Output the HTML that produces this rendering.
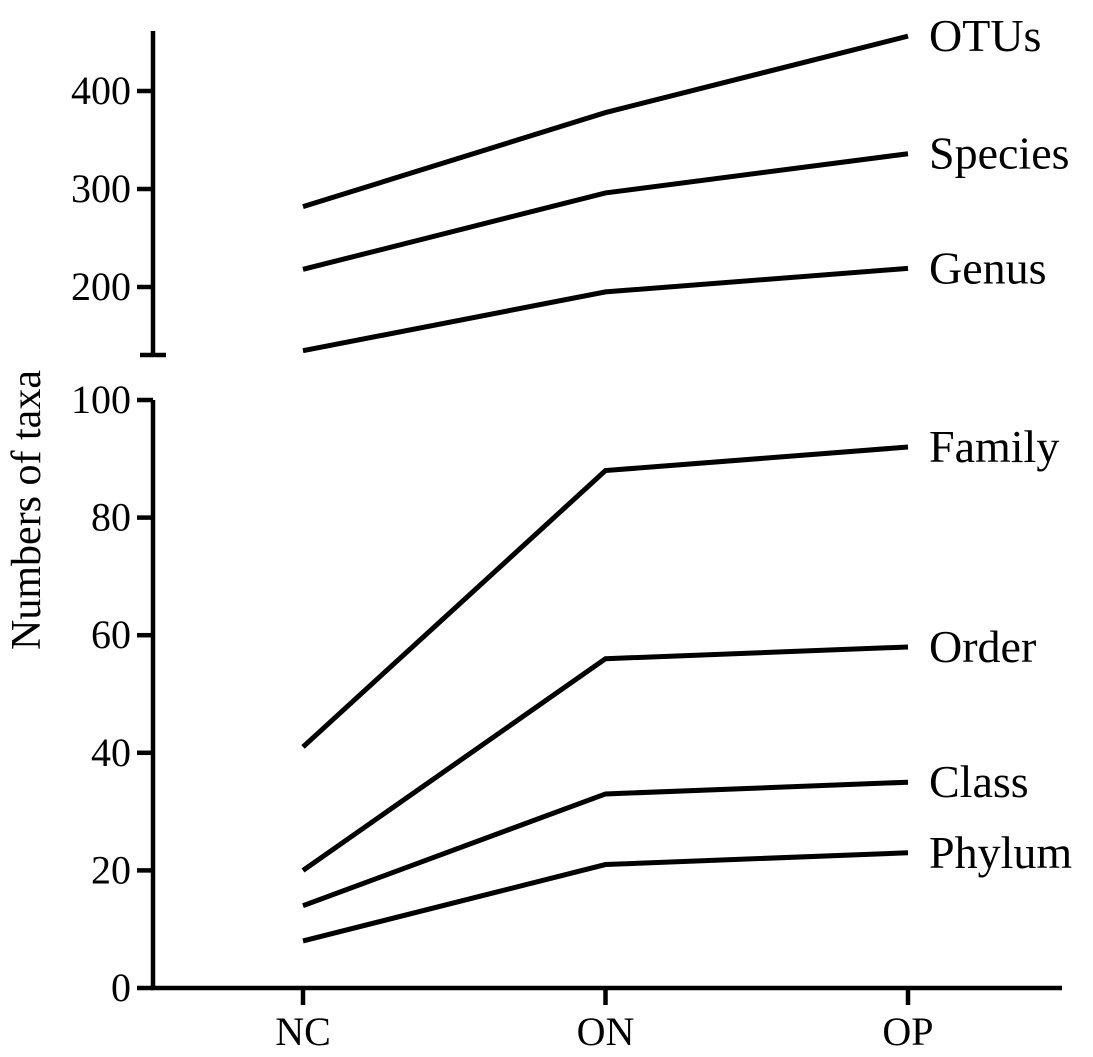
<!DOCTYPE html>
<html><head><meta charset="utf-8"><style>
body{margin:0;background:#fff}
svg{display:block}
text{font-family:"Liberation Serif",serif;fill:#000}
</style></head><body>
<svg id="chart" width="1093" height="1057" xmlns="http://www.w3.org/2000/svg"></svg>
<script>
const categories = ["NC","ON","OP"];
const seriesNames = ["OTUs","Species","Genus","Family","Order","Class","Phylum"];
const otus = [282,378,456];
const species = [218,296,336];
const genus = [135,195,219];
const family = [41,88,92];
const order = [20,56,58];
const classV = [14,33,35];
const phylum = [8,21,23];
const lowerTicks = [0,20,40,60,80,100];
const upperTicks = [200,300,400];

const NS="http://www.w3.org/2000/svg";
const svg=document.getElementById('chart');
function el(t,a,p){const e=document.createElementNS(NS,t);for(const k in a)e.setAttribute(k,a[k]);(p||svg).appendChild(e);return e;}
const xScale=i=>303+i*302.5;
const yLow=v=>988-v*5.88;
const yUp=v=>91+(400-v)*0.98;
const axisX=153;

let a;
a=el('line',{x1:axisX,y1:990,x2:axisX,y2:400,stroke:'#000','stroke-width':4.5});

a=el('line',{x1:axisX,y1:355,x2:axisX,y2:31,stroke:'#000','stroke-width':4.5});

a=el('line',{x1:140,y1:355,x2:166,y2:355,stroke:'#000','stroke-width':4.5});

a=el('line',{x1:axisX-2,y1:988,x2:1062,y2:988,stroke:'#000','stroke-width':4.5});


lowerTicks.forEach(v=>{
  const y=yLow(v);
  const t=el('line',{x1:137,y1:y,x2:axisX,y2:y,stroke:'#000','stroke-width':4.5});
  
  const l=el('text',{x:131,y:y+13,'text-anchor':'end','font-size':40});l.textContent=v;
  
});
upperTicks.forEach(v=>{
  const y=yUp(v);
  const t=el('line',{x1:137,y1:y,x2:axisX,y2:y,stroke:'#000','stroke-width':4.5});
  
  const l=el('text',{x:131,y:y+13,'text-anchor':'end','font-size':40});l.textContent=v;
  
});
categories.forEach((c,i)=>{
  const x=xScale(i);
  const t=el('line',{x1:x,y1:988,x2:x,y2:1005,stroke:'#000','stroke-width':4.5});
  
  const l=el('text',{x:x,y:1045,'text-anchor':'middle','font-size':40});l.textContent=c;
  
});
const yt=el('text',{x:0,y:0,'text-anchor':'middle','font-size':42,transform:'translate(40,510) rotate(-90)'});
yt.textContent='Numbers of taxa';


const series=[[otus,yUp],[species,yUp],[genus,yUp],[family,yLow],[order,yLow],[classV,yLow],[phylum,yLow]];
series.forEach(([vals,ys],k)=>{
  const pts=vals.map((v,i)=>xScale(i)+','+ys(v)).join(' ');
  const p=el('polyline',{points:pts,fill:'none',stroke:'#000','stroke-width':5,'stroke-linejoin':'miter'});
  
  
  const l=el('text',{x:929,y:ys(vals[2])+15,'font-size':46});
  l.textContent=seriesNames[k];
  
  
});
</script>
</body></html>
